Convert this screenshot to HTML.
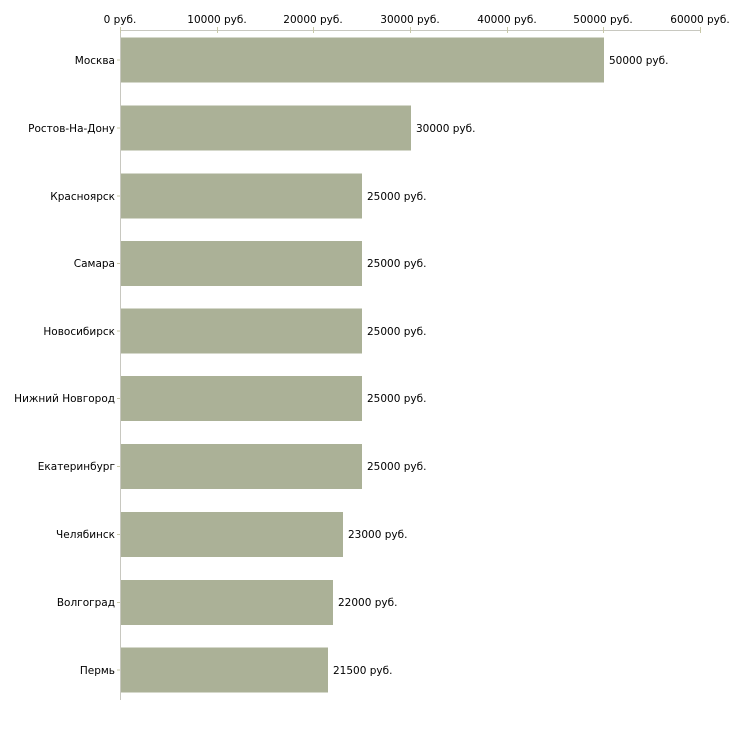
<!DOCTYPE html>
<html><head><meta charset="utf-8"><style>body{margin:0;background:#fff}svg text{font-family:"DejaVu Sans",sans-serif;font-size:10.5px;fill:#000}</style></head>
<body><svg width="730" height="730" xmlns="http://www.w3.org/2000/svg">
<line x1="120.5" y1="30" x2="120.5" y2="700" stroke="#c8c8c0"/>
<line x1="120" y1="30.5" x2="700" y2="30.5" stroke="#c8c8c0"/>
<g stroke="#c8c8a8">
<line x1="120.5" y1="27" x2="120.5" y2="33"/><line x1="217.5" y1="27" x2="217.5" y2="33"/><line x1="313.5" y1="27" x2="313.5" y2="33"/><line x1="410.5" y1="27" x2="410.5" y2="33"/><line x1="507.5" y1="27" x2="507.5" y2="33"/><line x1="603.5" y1="27" x2="603.5" y2="33"/><line x1="700.5" y1="27" x2="700.5" y2="33"/>
</g>
<g text-anchor="middle">
<text x="120" y="23">0 руб.</text><text x="217" y="23">10000 руб.</text><text x="313" y="23">20000 руб.</text><text x="410" y="23">30000 руб.</text><text x="507" y="23">40000 руб.</text><text x="603" y="23">50000 руб.</text><text x="700" y="23">60000 руб.</text>
</g>
<g fill="#abb197">
<rect x="121" y="37.5" width="483" height="45"/>
<rect x="121" y="105.5" width="290" height="45"/>
<rect x="121" y="173.5" width="241" height="45"/>
<rect x="121" y="241" width="241" height="45"/>
<rect x="121" y="308.5" width="241" height="45"/>
<rect x="121" y="376" width="241" height="45"/>
<rect x="121" y="444" width="241" height="45"/>
<rect x="121" y="512" width="222" height="45"/>
<rect x="121" y="580" width="212" height="45"/>
<rect x="121" y="647.5" width="207" height="45"/>
</g>
<g stroke="#c8c8a8">
<line x1="117" y1="60" x2="120" y2="60"/><line x1="117" y1="128" x2="120" y2="128"/><line x1="117" y1="196" x2="120" y2="196"/><line x1="117" y1="263.5" x2="120" y2="263.5"/><line x1="117" y1="331" x2="120" y2="331"/><line x1="117" y1="398.5" x2="120" y2="398.5"/><line x1="117" y1="466.5" x2="120" y2="466.5"/><line x1="117" y1="534.5" x2="120" y2="534.5"/><line x1="117" y1="602.5" x2="120" y2="602.5"/><line x1="117" y1="670" x2="120" y2="670"/>
</g>
<g text-anchor="end">
<text x="115" y="64">Москва</text><text x="115" y="132">Ростов-На-Дону</text><text x="115" y="200">Красноярск</text><text x="115" y="267">Самара</text><text x="115" y="335">Новосибирск</text><text x="115" y="402">Нижний Новгород</text><text x="115" y="470">Екатеринбург</text><text x="115" y="538">Челябинск</text><text x="115" y="606">Волгоград</text><text x="115" y="674">Пермь</text>
</g>
<g>
<text x="609" y="64">50000 руб.</text><text x="416" y="132">30000 руб.</text><text x="367" y="200">25000 руб.</text><text x="367" y="267">25000 руб.</text><text x="367" y="335">25000 руб.</text><text x="367" y="402">25000 руб.</text><text x="367" y="470">25000 руб.</text><text x="348" y="538">23000 руб.</text><text x="338" y="606">22000 руб.</text><text x="333" y="674">21500 руб.</text>
</g>
</svg></body></html>
